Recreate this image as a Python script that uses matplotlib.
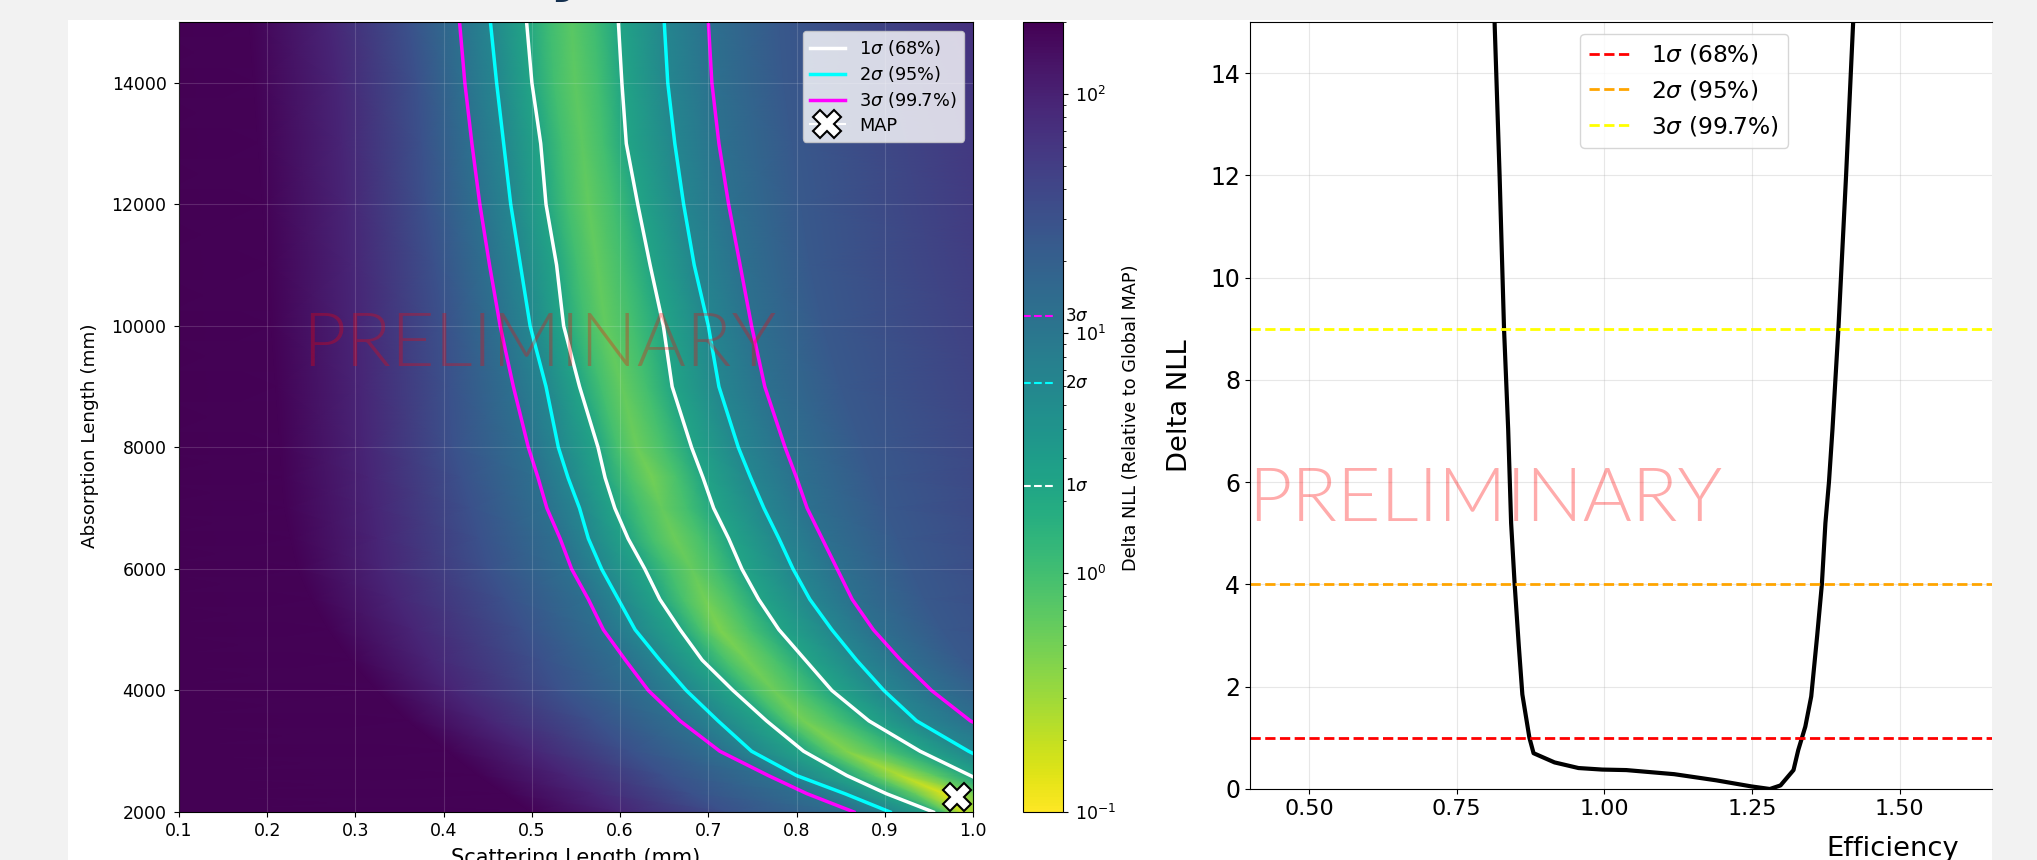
import numpy as np
import matplotlib
matplotlib.use('Agg')
import matplotlib.pyplot as plt
from matplotlib.colors import LogNorm
from matplotlib.patches import Rectangle

W, H = 2037, 860

# absorption length rows of the scan, x position of each level per row
abs_rows = [15000, 14000, 13000, 12000, 11000, 10000, 9000, 8000, 7500, 7000, 6500, 6000, 5500, 5000, 4500, 4000, 3500, 3000, 2600, 2300, 2000]
x_edge = [0.05] * 21
x_dark = [.18, .185, .19, .195, .20, .205, .21, .215, .217, .22, .227, .235, .25, .27, .295, .325, .36, .405, .44, .47, .50]
x_purple = [.27, .28, .285, .29, .295, .30, .305, .31, .315, .32, .325, .33, .345, .365, .385, .41, .45, .50, .54, .57, .60]
x_blue = [.36, .37, .375, .38, .39, .40, .405, .41, .42, .43, .44, .45, .47, .49, .51, .53, .57, .61, .65, .68, .72]
x_3s_l = [.418, .424, .432, .441, .452, .464, .479, .496, .507, .517, .532, .545, .564, .581, .606, .632, .668, .713, .768, .812, .865]
x_2s_l = [.453, .460, .468, .476, .487, .498, .516, .53, .541, .554, .564, .579, .598, .617, .645, .675, .711, .749, .80, .855, .906]
x_1s_l = [.494, .50, .51, .516, .528, .536, .554, .575, .583, .594, .609, .628, .645, .668, .693, .728, .766, .808, .857, .902, .955]
x_inner_l = [.52, .525, .534, .54, .551, .56, .578, .597, .61, .621, .636, .655, .671, .691, .719, .751, .787, .833, .888, .935, .97]
x_valley = [.545, .549, .557, .564, .574, .583, .602, .619, .636, .647, .662, .681, .696, .713, .744, .774, .808, .857, .918, .967, .986]
x_inner_r = [.572, .576, .582, .593, .603, .616, .631, .65, .665, .677, .693, .71, .727, .747, .777, .805, .845, .899, .958, 1.004, 1.038]
x_1s_r = [.598, .602, .607, .62, .634, .649, .659, .681, .694, .706, .723, .738, .757, .78, .81, .84, .882, .94, .997, 1.04, 1.09]
x_2s_r = [.65, .654, .662, .672, .684, .70, .712, .734, .748, .763, .78, .796, .815, .84, .868, .899, .936, .995, 1.05, 1.09, 1.13]
x_3s_r = [.70, .704, .712, .723, .736, .749, .764, .787, .80, .812, .829, .846, .863, .887, .918, .953, .997, 1.07, 1.13, 1.18, 1.23]
x_far = [.78, .785, .795, .805, .815, .83, .85, .875, .887, .90, .915, .93, .945, .965, .99, 1.03, 1.08, 1.15, 1.2, 1.25, 1.3]
x_end = [1.0, 1.03, 1.05, 1.07, 1.09, 1.12, 1.15, 1.18, 1.19, 1.2, 1.21, 1.22, 1.245, 1.27, 1.3, 1.35, 1.4, 1.45, 1.5, 1.55, 1.6]

valley_nll = [.7, .65, .65, .62, .62, .62, .6, .55, .5, .6, .55, .6, .5, .45, .5, .55, .5, .42, .25, .15, .2]
inner_nll = [1.05, 1.0, 1.0, 1.0, 1.0, 1.0, 1.0, .95, .9, 1.0, .95, 1.0, .9, .9, .9, .95, .9, .85, .7, .6, .65]
# delta NLL on each x column, left to right, the inner columns vary per row
column_nll = [260, 190, 90, 30, 11.83, 6.18, 2.3, inner_nll, valley_nll, inner_nll, 2.3, 6.18, 11.83, 25, 70]

map_point = (0.982, 2250)

# profile scan, right panel
eff = [.814, .8225, .83, .837, .842, .848, .855, .861, .873, .88, .9155, .956, .996, 1.037, 1.118, 1.189, 1.249, 1.28,
       1.298, 1.32, 1.328, 1.34, 1.35, 1.36, 1.368, 1.374, 1.38, 1.386, 1.396, 1.409, 1.421]
eff_nll = [15, 12, 9, 7.04, 5.2, 4, 2.8, 1.85, 1, .7, .52, .41, .38, .37, .29, .17, .05, 0,
           .07, .37, .76, 1.22, 1.81, 2.99, 4, 5.2, 6, 7.04, 9, 12, 15]

sigma_2d = [2.30, 6.18, 11.83]
sigma_1d = [1, 4, 9]
sigma_labels = [r'1$\sigma$ (68%)', r'2$\sigma$ (95%)', r'3$\sigma$ (99.7%)']


def place(x0, y0, x1, y1):
    return [x0 / W, 1 - y1 / H, (x1 - x0) / W, (y1 - y0) / H]


fig = plt.figure(figsize=(W / 100, H / 100), dpi=100, facecolor='#f2f2f2')
fig.add_artist(Rectangle((68 / W, 0), (1992 - 68) / W, 1 - 20 / H, transform=fig.transFigure, fc='white', ec='none', zorder=-1))
fig.text(568 / W, 1 + 10 / H, 'y', color='#14304f', fontsize=42, fontweight='bold', ha='center', va='baseline')

ax = fig.add_axes(place(179, 22, 973, 812))
columns = [x_edge, x_dark, x_purple, x_blue, x_3s_l, x_2s_l, x_1s_l, x_inner_l, x_valley, x_inner_r, x_1s_r, x_2s_r, x_3s_r, x_far, x_end]
X = np.column_stack(columns)
Y = np.column_stack([abs_rows] * len(columns))
Z = np.column_stack([v if isinstance(v, list) else [v] * len(abs_rows) for v in column_nll])
mesh = ax.pcolormesh(X, Y, Z, shading='gouraud', cmap='viridis_r', norm=LogNorm(vmin=0.1, vmax=200))

for xl, xr, c, lab in zip([x_1s_l, x_2s_l, x_3s_l], [x_1s_r, x_2s_r, x_3s_r], ['white', 'cyan', 'magenta'], sigma_labels):
    ax.plot(xl, abs_rows, color=c, lw=2.5, label=lab)
    ax.plot(xr, abs_rows, color=c, lw=2.5)
ax.plot(*map_point, color='white', marker='X', ms=20, mfc='white', mec='black', mew=1.5, label='MAP')

ax.set_xlim(0.1, 1.0)
ax.set_ylim(2000, 15000)
ax.set_xticks(np.arange(0.1, 1.01, 0.1))
ax.grid(True, color='white', alpha=0.15)
ax.set_axisbelow(False)
ax.tick_params(labelsize=12.5)
ax.tick_params(axis='y', pad=5.5)
ax.legend(loc='upper right', fontsize=12.8, framealpha=0.8, labelspacing=0.35)
ax.text(0.1555, 0.591, 'PRELIMINARY', transform=ax.transAxes, color='red', alpha=0.3, fontsize=54,
        family='Lato', weight=300, ha='left', va='center')
fig.text(576 / W, 1 - 858 / H, 'Scattering Length (mm)', fontsize=15, ha='center', va='center')
fig.text(90 / W, 1 - 436 / H, 'Absorption Length (mm)', fontsize=13.2, rotation=90, ha='center', va='center')

cax = fig.add_axes(place(1023, 22, 1063, 812))
cbar = fig.colorbar(mesh, cax=cax)
cax.tick_params(labelsize=12.5, pad=5)
for lev, c, s in zip(sigma_2d, ['white', 'cyan', 'magenta'], ['1', '2', '3']):
    cax.hlines(lev, 0, 0.75, color=c, ls='--', lw=1.5)
    cax.text(1.05, lev, r'%s$\sigma$' % s, transform=cax.get_yaxis_transform(), fontsize=12, va='center')
fig.text(1131 / W, 1 - 418 / H, 'Delta NLL (Relative to Global MAP)', fontsize=12.8, rotation=90, ha='center', va='center')

ax2 = fig.add_axes(place(1250, 22, 1992, 789))
ax2.plot(eff, eff_nll, color='black', lw=3)
for lev, c, lab in zip(sigma_1d, ['red', 'orange', 'yellow'], sigma_labels):
    ax2.axhline(lev, color=c, ls='--', lw=2, label=lab)
ax2.set_xlim(0.4, 1.656)
ax2.set_ylim(0, 15)
ax2.set_xticks([0.5, 0.75, 1.0, 1.25, 1.5])
ax2.set_xticklabels(['0.50', '0.75', '1.00', '1.25', '1.50'])
ax2.set_yticks(range(0, 15, 2))
ax2.grid(True, alpha=0.3)
ax2.tick_params(labelsize=16)
ax2.tick_params(axis='y', labelsize=17)
ax2.spines['right'].set_visible(False)
ax2.legend(loc='upper center', bbox_to_anchor=(0.585, 0.985), fontsize=16.8, handlelength=1.85, labelspacing=0.5, borderaxespad=0)
ax2.text(-0.003, 0.376, 'PRELIMINARY', transform=ax2.transAxes, color='red', alpha=0.33, fontsize=54,
         family='Lato', weight=300, ha='left', va='center')
fig.text(1893 / W, 1 - 849 / H, 'Efficiency', fontsize=19.7, ha='center', va='center')
fig.text(1180 / W, 1 - 406 / H, 'Delta NLL', fontsize=19.7, rotation=90, ha='center', va='center')

fig.savefig('out.png', dpi=100, facecolor=fig.get_facecolor())
